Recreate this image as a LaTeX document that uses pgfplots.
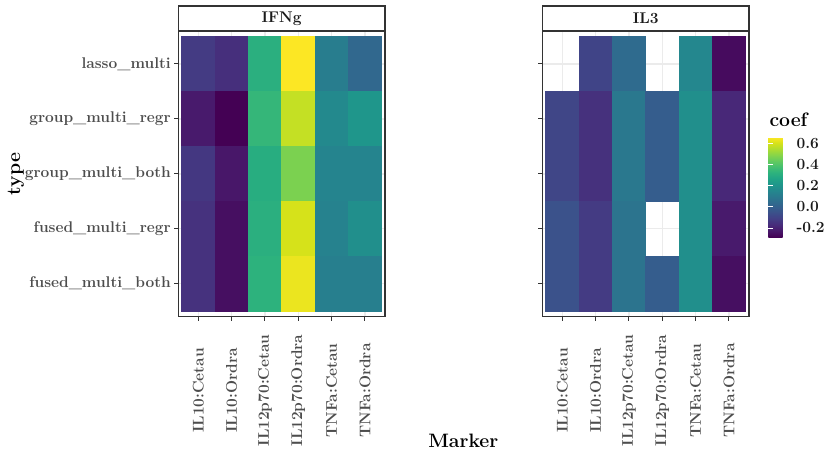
\documentclass[border=0pt]{standalone}
\usepackage{fontspec}
\usepackage{pgfplots}
\usepackage{pgfplotstable}
\pgfplotsset{compat=1.18}
\definecolor{grey10}{RGB}{26,26,26}
\definecolor{grey20}{RGB}{51,51,51}
\definecolor{grey30}{RGB}{77,77,77}
\definecolor{grey92}{RGB}{235,235,235}
\newcommand\tl{\bfseries\fontsize{15.5}{18}\selectfont}
\newcommand\ttl{\bfseries\fontsize{19.4}{23}\selectfont}

\pgfplotstableread{
x y c
1 5 -0.125
2 5 -0.16
3 5 0.31
4 5 0.655
5 5 0.11
6 5 0.03
1 4 -0.22
2 4 -0.285
3 4 0.34
4 4 0.575
5 4 0.16
6 4 0.21
1 3 -0.135
2 3 -0.23
3 3 0.30
4 3 0.47
5 3 0.14
6 3 0.14
1 2 -0.15
2 2 -0.25
3 2 0.31
4 2 0.60
5 2 0.13
6 2 0.18
1 1 -0.15
2 1 -0.25
3 1 0.32
4 1 0.63
5 1 0.12
6 1 0.12
}\ifng

\pgfplotstableread{
x y c
2 5 -0.096
3 5 0.04
5 5 0.15
6 5 -0.26
1 4 -0.09
2 4 -0.155
3 4 0.09
4 4 -0.01
5 4 0.18
6 4 -0.18
1 3 -0.09
2 3 -0.155
3 3 0.09
4 3 -0.01
5 3 0.18
6 3 -0.18
1 2 -0.05
2 2 -0.125
3 2 0.075
5 2 0.18
6 2 -0.22
1 1 -0.05
2 1 -0.125
3 1 0.075
4 1 -0.01
5 1 0.18
6 1 -0.25
}\ilthree

\pgfplotsset{
  heat/.style={
    scale only axis, width=206.7pt, height=285.5pt,
    xmin=0.4, xmax=6.6, ymin=0.4, ymax=5.6,
    xtick={1,...,6}, ytick={1,...,5},
    xticklabels={IL10:Cetau,IL10:Ordra,IL12p70:Cetau,IL12p70:Ordra,TNFa:Cetau,TNFa:Ordra},
    xtick pos=left, ytick pos=left,
    tick align=outside, major tick length=4pt,
    tick style={grey20, line width=1pt},
    axis line style={grey20, line width=1.1pt},
    grid=major, grid style={grey92, line width=1.6pt},
    colormap/viridis,
    point meta min=-0.285, point meta max=0.657,
    xticklabel style={font=\tl, text=grey30, yshift=-70pt, rotate=90, anchor=center},
    yticklabel style={font=\tl, text=grey30},
    title style={draw=grey20, line width=1.1pt, fill=white, minimum width=206.7pt,
      minimum height=25pt, at={(0.5,1)}, anchor=south, yshift=-6.5pt, font=\tl, text=grey10, inner sep=0pt},
  },
  tiles/.style={scatter, only marks, mark=square*, mark size=16.65pt,
    scatter/use mapped color={draw=mapped color, fill=mapped color},
    mark options={yscale=1.6486, line width=0.4pt}, point meta=explicit},
}

\begin{document}
\begin{tikzpicture}[x=1pt,y=1pt]
\path[use as bounding box] (0,0) rectangle (827,450);
\begin{axis}[heat, at={(178.3pt,133.5pt)}, anchor=south west, title={IFNg},
  yticklabels={fused\_multi\_both,fused\_multi\_regr,group\_multi\_both,group\_multi\_regr,lasso\_multi}]
\addplot[tiles] table[x=x, y=y, meta=c] {\ifng};
\end{axis}
\begin{axis}[heat, at={(542.3pt,133.5pt)}, anchor=south west, title={IL3},
  yticklabels={,,,,},
  colorbar,
  colorbar style={at={(1.0934,0.6287)}, anchor=north west, scale only axis,
    width=20.7pt, height=100pt,
    ytick={-0.2,0,0.2,0.4,0.6}, yticklabels={-0.2,0.0,0.2,0.4,0.6},
    yticklabel style={font=\tl, text=grey10, xshift=4pt},
    axis line style={draw=none},
    tick align=inside, major tick length=4.2pt,
    ytick style={white, line width=0.8pt},
    ytick pos=both, yticklabel pos=right}]
\addplot[tiles] table[x=x, y=y, meta=c] {\ilthree};
\end{axis}
\node[font=\ttl, text=black] at (463.3,9) {Marker};
\node[font=\ttl, text=black, rotate=90] at (16,276) {type};
\node[font=\ttl, text=black, anchor=west] at (766,330) {coef};
\end{tikzpicture}
\end{document}
